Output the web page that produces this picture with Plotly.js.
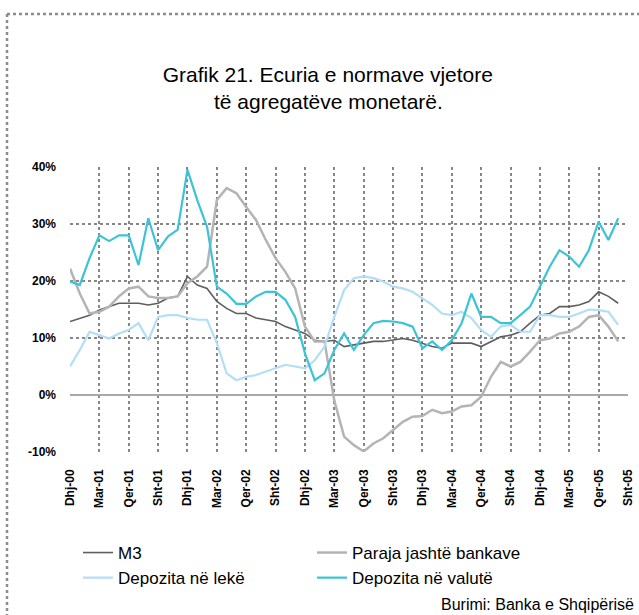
<!DOCTYPE html>
<html>
<head>
<meta charset="utf-8">
<script src="https://cdn.plot.ly/plotly-3.0.1.min.js"></script>
<style>
  html, body { margin: 0; padding: 0; background: #fff; }
  #chart { width: 639px; height: 615px; }
</style>
</head>
<body>
<div id="chart"></div>
<script>
// Monthly observations, Dhj-00 ... Gus-05
const months = [
  "Dhj-00",
  "Jan-01","Shk-01","Mar-01","Pri-01","Maj-01","Qer-01","Kor-01","Gus-01","Sht-01","Tet-01","Nën-01","Dhj-01",
  "Jan-02","Shk-02","Mar-02","Pri-02","Maj-02","Qer-02","Kor-02","Gus-02","Sht-02","Tet-02","Nën-02","Dhj-02",
  "Jan-03","Shk-03","Mar-03","Pri-03","Maj-03","Qer-03","Kor-03","Gus-03","Sht-03","Tet-03","Nën-03","Dhj-03",
  "Jan-04","Shk-04","Mar-04","Pri-04","Maj-04","Qer-04","Kor-04","Gus-04","Sht-04","Tet-04","Nën-04","Dhj-04",
  "Jan-05","Shk-05","Mar-05","Pri-05","Maj-05","Qer-05","Kor-05","Gus-05"
];

// Tick labels (every third month)
const tickLabels = ["Dhj-00","Mar-01","Qer-01","Sht-01","Dhj-01","Mar-02","Qer-02","Sht-02","Dhj-02","Mar-03",
                    "Qer-03","Sht-03","Dhj-03","Mar-04","Qer-04","Sht-04","Dhj-04","Mar-05","Qer-05","Sht-05"];

// Annual growth rates, %
const m3 = [12.9,13.5,14.0,14.9,15.5,16.1,16.1,16.1,15.8,16.1,17.0,17.3,20.8,19.3,18.7,16.4,15.2,14.3,14.3,13.5,
            13.2,12.9,12.0,11.4,10.8,9.6,9.4,9.6,8.5,8.8,9.1,9.4,9.4,9.6,9.9,9.6,9.1,8.5,8.2,9.1,
            9.1,9.1,8.5,9.4,10.2,10.5,11.1,12.6,14.0,14.3,15.5,15.5,15.8,16.4,18.1,17.3,16.1];

const paraja = [22.2,17.8,14.3,14.6,15.5,17.3,18.7,19.0,17.3,17.0,17.0,17.3,19.6,20.8,22.5,34.2,36.3,35.4,33.0,30.7,
                27.2,24.0,21.6,18.7,12.0,9.4,9.4,-1.0,-7.3,-8.8,-9.9,-8.5,-7.6,-6.1,-4.7,-3.8,-3.7,-2.6,-3.2,-2.9,
                -2.0,-1.8,-0.3,3.2,5.8,5.0,5.8,7.6,9.6,9.9,10.8,11.1,12.0,13.7,14.0,12.0,9.4];

const depLek = [5.0,7.9,11.1,10.5,9.9,10.8,11.4,12.6,9.6,13.7,14.0,14.0,13.5,13.2,13.2,9.1,3.8,2.6,3.2,3.5,
                4.1,4.7,5.3,5.0,4.7,6.1,8.5,13.7,18.4,20.5,20.8,20.5,19.9,19.0,18.7,18.1,17.0,15.8,14.3,14.0,
                14.6,13.5,11.4,10.2,12.0,12.3,11.1,11.1,14.0,14.0,13.7,13.7,14.3,15.0,14.9,14.6,12.3];

const depValute = [19.9,19.3,24.0,28.0,27.0,28.0,28.0,22.8,31.0,25.4,27.8,29.0,39.5,34.2,29.5,19.0,17.8,16.0,16.0,17.3,
                   18.1,18.1,16.7,13.7,7.3,2.6,3.8,7.9,10.8,7.9,10.5,12.6,13.0,12.9,12.6,12.0,8.2,9.4,7.9,9.6,
                   12.6,17.8,13.7,13.7,12.6,12.6,14.0,15.5,19.0,22.5,25.4,24.3,22.5,25.4,30.4,27.2,31.0];

const seriesNames = ["M3", "Paraja jashtë bankave", "Depozita në lekë", "Depozita në valutë"];
const yTicks = [-10, 0, 10, 20, 30, 40];
const yTickText = ["-10%", "0%", "10%", "20%", "30%", "40%"];

const idx = months.map((_, i) => i);
const tickVals = tickLabels.map((_, i) => i * 3);

const traces = [
  {x: idx, y: m3, name: seriesNames[0], text: months, mode: "lines",
   line: {color: "#5e5e5e", width: 1.6}},
  {x: idx, y: paraja, name: seriesNames[1], text: months, mode: "lines",
   line: {color: "#b4b4b4", width: 2.5}},
  {x: idx, y: depLek, name: seriesNames[2], text: months, mode: "lines",
   line: {color: "#b2def6", width: 2.2}},
  {x: idx, y: depValute, name: seriesNames[3], text: months, mode: "lines",
   line: {color: "#3cc4d6", width: 2.2}}
];

const F = "Liberation Sans, Arial, sans-serif";

const layout = {
  width: 639, height: 615,
  paper_bgcolor: "#ffffff", plot_bgcolor: "#ffffff",
  margin: {l: 70, r: 11, t: 167, b: 163},
  showlegend: true,
  title: {
    text: "Grafik 21. Ecuria e normave vjetore",
    font: {family: F, size: 21, color: "#000"},
    x: 0.513, xanchor: "center", xref: "container",
    y: 1 - 75/615, yanchor: "middle", yref: "container"
  },
  xaxis: {
    range: [0, 57],
    tickmode: "array", tickvals: tickVals, ticktext: tickLabels,
    tickangle: -90,
    tickfont: {family: F, size: 12, color: "#000", weight: "bold"},
    ticks: "", ticklabelstandoff: 14,
    showgrid: true, gridcolor: "#868686", gridwidth: 2, griddash: "3px,3px",
    zeroline: false, showline: false, fixedrange: true
  },
  yaxis: {
    range: [-10, 40],
    tickmode: "array", tickvals: yTicks, ticktext: yTickText,
    tickfont: {family: F, size: 12, color: "#000", weight: "bold"},
    ticks: "", ticklabelstandoff: 13,
    showgrid: true, gridcolor: "#868686", gridwidth: 2, griddash: "3px,3px",
    zeroline: true, zerolinecolor: "#a8a8a8", zerolinewidth: 2,
    showline: false, fixedrange: true
  },
  legend: {
    orientation: "h",
    x: (78 - 70) / 558, xanchor: "left",
    y: (452 - 535) / 285, yanchor: "top",
    font: {family: F, size: 17, color: "#000"},
    entrywidth: 189, entrywidthmode: "pixels",
    itemwidth: 30, tracegroupgap: 0,
    bgcolor: "rgba(0,0,0,0)"
  },
  annotations: [
    {text: "të agregatëve monetarë.", xref: "paper", yref: "paper",
     x: (328 - 70) / 558, y: (452 - 102) / 285, xanchor: "center", yanchor: "middle",
     showarrow: false, font: {family: F, size: 21, color: "#000"}},
    {text: "Burimi: Banka e Shqipërisë", xref: "paper", yref: "paper",
     x: (636 - 70) / 558, y: (452 - 604) / 285, xanchor: "right", yanchor: "middle",
     showarrow: false, font: {family: F, size: 16, color: "#000"}}
  ],
  shapes: [
    {type: "line", xref: "paper", yref: "paper",
     x0: (7 - 70) / 558, x1: (660 - 70) / 558, y0: (452 - 14) / 285, y1: (452 - 14) / 285,
     line: {color: "#8c8c8c", width: 2.5, dash: "3px,3px"}},
    {type: "line", xref: "paper", yref: "paper",
     x0: (7 - 70) / 558, x1: (7 - 70) / 558, y0: (452 - 14) / 285, y1: (452 - 640) / 285,
     line: {color: "#8c8c8c", width: 2.5, dash: "3px,3px"}}
  ]
};

Plotly.newPlot("chart", traces, layout, {displayModeBar: false, staticPlot: true});
</script>
</body>
</html>
